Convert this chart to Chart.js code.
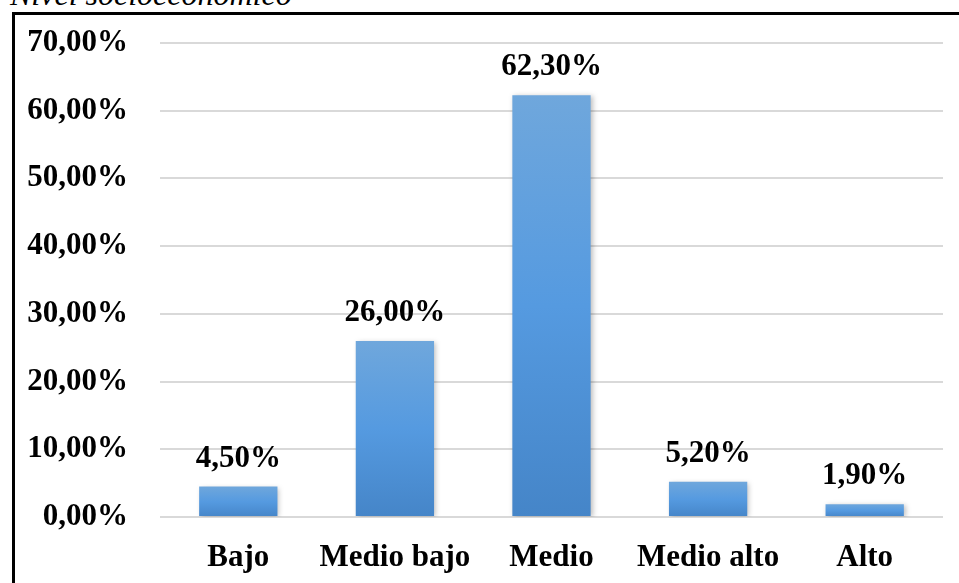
<!DOCTYPE html>
<html>
<head>
<meta charset="utf-8">
<script src="https://cdn.jsdelivr.net/npm/chart.js@4"></script>
<style>
    html, body { margin: 0; padding: 0; background: #fff; overflow: hidden; }
    .page { position: relative; width: 959px; height: 583px; }
    .caption {
        position: absolute; left: 10px; top: -24px;
        font: italic 32px "Liberation Serif", "Times New Roman", serif;
        color: #000; white-space: nowrap;
    }
    .frame {
        position: absolute; left: 12px; top: 12px; width: 1000px; height: 600px;
        border-left: 3px solid #000; border-top: 3px solid #000;
    }
    .chart-box { position: absolute; left: 0; top: 0; width: 959px; height: 583px; }
</style>
</head>
<body>
<div class="page">
    <div class="caption">Nivel socioeconómico</div>
    <div class="frame"></div>
    <div class="chart-box"><canvas id="chart"></canvas></div>
</div>
<script>
// Data
const categories = ['Bajo', 'Medio bajo', 'Medio', 'Medio alto', 'Alto'];
const percentages = [4.5, 26.0, 62.3, 5.2, 1.9];
const yTicks = [0, 10, 20, 30, 40, 50, 60, 70];

const FONT = '"Liberation Serif", "Times New Roman", serif';

function pct(v) {
    return v.toFixed(2).replace('.', ',') + '%';
}

// Excel-like vertical gradient for each bar
function barGradient(context) {
    const chart = context.chart;
    const yScale = chart.scales.y;
    if (!yScale || !context.parsed) return '#5b9bd5';
    const top = yScale.getPixelForValue(context.parsed.y);
    const base = yScale.getPixelForValue(0);
    if (!isFinite(top) || !isFinite(base) || top === base) return '#5b9bd5';
    const g = chart.ctx.createLinearGradient(0, top, 0, base);
    g.addColorStop(0, '#6fa7dc');
    g.addColorStop(0.5, '#559ae0');
    g.addColorStop(1, '#4585c8');
    return g;
}

// Value labels above the bars
const valueLabels = {
    id: 'valueLabels',
    afterDatasetsDraw(chart) {
        const ctx = chart.ctx;
        const meta = chart.getDatasetMeta(0);
        ctx.save();
        ctx.font = 'bold 31px ' + FONT;
        ctx.fillStyle = '#000';
        ctx.textAlign = 'center';
        ctx.textBaseline = 'alphabetic';
        meta.data.forEach((bar, i) => {
            ctx.fillText(pct(percentages[i]), bar.x, bar.y - 20);
        });
        ctx.restore();
    }
};

// Soft shadow on the bars
const barShadow = {
    id: 'barShadow',
    beforeDatasetDraw(chart) {
        const ctx = chart.ctx;
        ctx.save();
        ctx.shadowColor = 'rgba(0,0,0,0.25)';
        ctx.shadowBlur = 5;
        ctx.shadowOffsetX = 2;
        ctx.shadowOffsetY = 1;
    },
    afterDatasetDraw(chart) {
        chart.ctx.restore();
    }
};

new Chart(document.getElementById('chart'), {
    type: 'bar',
    data: {
        labels: categories,
        datasets: [{
            data: percentages,
            backgroundColor: barGradient,
            borderWidth: 0,
            categoryPercentage: 1.0,
            barPercentage: 0.5
        }]
    },
    options: {
        responsive: true,
        maintainAspectRatio: false,
        animation: false,
        devicePixelRatio: 1,
        layout: { padding: { top: 43, right: 16, left: 0, bottom: 0 } },
        plugins: {
            legend: { display: false },
            tooltip: { enabled: false }
        },
        scales: {
            x: {
                grid: { display: false },
                border: { display: false },
                ticks: {
                    color: '#000',
                    padding: 14,
                    maxRotation: 0,
                    minRotation: 0,
                    autoSkip: false,
                    font: { family: FONT, size: 31, weight: 'bold' }
                },
                afterFit(scale) { scale.height = 66; }
            },
            y: {
                min: 0,
                max: 70,
                afterBuildTicks(scale) {
                    scale.ticks = yTicks.map(v => ({ value: v }));
                },
                grid: { color: '#d9d9d9', lineWidth: 2, drawTicks: false },
                border: { display: false },
                ticks: {
                    color: '#000',
                    padding: 32,
                    font: { family: FONT, size: 31, weight: 'bold' },
                    callback: v => pct(v)
                },
                afterFit(scale) {
                    scale.width = 160;
                    scale.paddingTop = 0;
                    scale.paddingBottom = 0;
                }
            }
        }
    },
    plugins: [barShadow, valueLabels]
});
</script>
</body>
</html>
